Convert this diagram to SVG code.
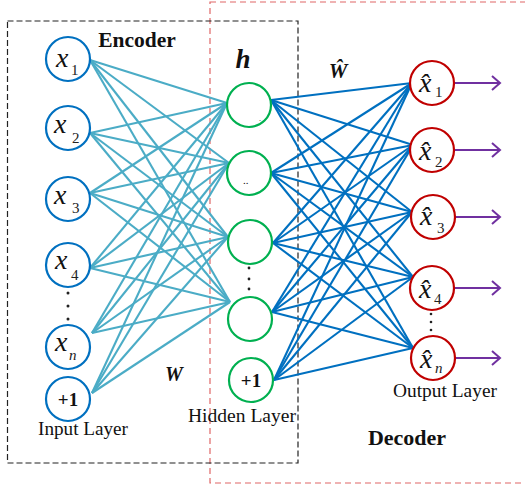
<svg xmlns="http://www.w3.org/2000/svg" width="525" height="487" viewBox="0 0 525 487">
<style>
.ser{font-family:"Liberation Serif","Times New Roman",serif;fill:#111}
.mi{font-family:"Liberation Serif","Times New Roman",serif;font-style:italic;fill:#111;font-size:28px}
.sb{font-family:"Liberation Serif","Times New Roman",serif;fill:#222;font-size:15px}
.sbi{font-family:"Liberation Serif","Times New Roman",serif;font-style:italic;fill:#222;font-size:15px}
.in{fill:#fff;stroke:#0070C0;stroke-width:2.2}
.hid{fill:#fff;stroke:#00B050;stroke-width:2.2}
.out{fill:#fff;stroke:#C00000;stroke-width:2.2}
.enc line{stroke:#4BACC6;stroke-width:2.1}
.dec line{stroke:#0070C0;stroke-width:2.1}
.arr{stroke:#7030A0;stroke-width:2;fill:none}
.dot{fill:#222}
</style>
<rect x="210" y="2" width="330" height="481" fill="none" stroke="#E06666" stroke-width="1.2" stroke-dasharray="6,4"/>
<rect x="7.5" y="21" width="290.5" height="442" fill="none" stroke="#222" stroke-width="1.2" stroke-dasharray="6,3"/>
<g id="connectors">
<g class="enc">
<line x1="90" y1="60" x2="227" y2="103"/><line x1="90" y1="60" x2="229" y2="163"/><line x1="90" y1="60" x2="228" y2="237"/><line x1="90" y1="60" x2="230" y2="302"/>
<line x1="90" y1="133" x2="227" y2="103"/><line x1="90" y1="133" x2="229" y2="163"/><line x1="90" y1="133" x2="228" y2="237"/><line x1="90" y1="133" x2="230" y2="302"/>
<line x1="90" y1="193" x2="227" y2="103"/><line x1="90" y1="193" x2="229" y2="163"/><line x1="90" y1="193" x2="228" y2="237"/><line x1="90" y1="193" x2="230" y2="302"/>
<line x1="90" y1="268" x2="227" y2="103"/><line x1="90" y1="268" x2="229" y2="163"/><line x1="90" y1="268" x2="228" y2="237"/><line x1="90" y1="268" x2="230" y2="302"/>
<line x1="92" y1="333" x2="227" y2="103"/><line x1="92" y1="333" x2="229" y2="163"/><line x1="92" y1="333" x2="228" y2="237"/><line x1="92" y1="333" x2="230" y2="302"/>
<line x1="92" y1="393" x2="227" y2="103"/><line x1="92" y1="393" x2="229" y2="163"/><line x1="92" y1="393" x2="228" y2="237"/><line x1="92" y1="393" x2="230" y2="302"/>
</g>
<g class="dec">
<line x1="271" y1="100" x2="412" y2="83"/><line x1="271" y1="100" x2="413" y2="145"/><line x1="271" y1="100" x2="412" y2="212"/><line x1="271" y1="100" x2="413" y2="277"/><line x1="271" y1="100" x2="413" y2="348"/>
<line x1="271" y1="173" x2="412" y2="83"/><line x1="271" y1="173" x2="413" y2="145"/><line x1="271" y1="173" x2="412" y2="212"/><line x1="271" y1="173" x2="413" y2="277"/><line x1="271" y1="173" x2="413" y2="348"/>
<line x1="273" y1="243" x2="412" y2="83"/><line x1="273" y1="243" x2="413" y2="145"/><line x1="273" y1="243" x2="412" y2="212"/><line x1="273" y1="243" x2="413" y2="277"/><line x1="273" y1="243" x2="413" y2="348"/>
<line x1="272" y1="312" x2="412" y2="83"/><line x1="272" y1="312" x2="413" y2="145"/><line x1="272" y1="312" x2="412" y2="212"/><line x1="272" y1="312" x2="413" y2="277"/><line x1="272" y1="312" x2="413" y2="348"/>
<line x1="274" y1="380" x2="412" y2="83"/><line x1="274" y1="380" x2="413" y2="145"/><line x1="274" y1="380" x2="412" y2="212"/><line x1="274" y1="380" x2="413" y2="277"/><line x1="274" y1="380" x2="413" y2="348"/>
</g>
<g id="outputs-arrows">
<path class="arr" d="M455 83H500M492 76L500 83L492 90"/>
<path class="arr" d="M455 150H500M492 143L500 150L492 157"/>
<path class="arr" d="M455 217H500M492 210L500 217L492 224"/>
<path class="arr" d="M455 288H500M492 281L500 288L492 295"/>
<path class="arr" d="M455 358H500M492 351L500 358L492 365"/>
</g>
</g>
<g id="input-x1"><circle class="in" cx="68" cy="59" r="22"/><text class="mi" x="56" y="67">x</text><text class="sb" x="71" y="75">1</text></g>
<g id="input-x2"><circle class="in" cx="68" cy="128" r="22"/><text class="mi" x="54" y="133">x</text><text class="sb" x="72" y="143">2</text></g>
<g id="input-x3"><circle class="in" cx="68" cy="199" r="22"/><text class="mi" x="54" y="204">x</text><text class="sb" x="72" y="213">3</text></g>
<g id="input-x4"><circle class="in" cx="68" cy="265" r="22"/><text class="mi" x="55" y="269">x</text><text class="sb" x="71" y="280">4</text></g>
<g id="input-dots"><circle class="dot" cx="68" cy="293" r="1.5"/><circle class="dot" cx="68" cy="306" r="1.5"/><circle class="dot" cx="68" cy="319" r="1.5"/></g>
<g id="input-xn"><circle class="in" cx="68" cy="347" r="22"/><text class="mi" x="55" y="351">x</text><text class="sbi" x="69" y="360">n</text></g>
<g id="input-bias"><circle class="in" cx="68" cy="399" r="22"/><text class="ser" x="68" y="406" text-anchor="middle" font-size="19" font-weight="bold">+1</text></g>
<text class="ser" x="83" y="435" text-anchor="middle" font-size="18.5" textLength="90" lengthAdjust="spacingAndGlyphs">Input Layer</text>
<text class="ser" x="137" y="47" text-anchor="middle" font-size="21.5" font-weight="bold">Encoder</text>
<text class="ser" x="174" y="381" text-anchor="middle" font-size="20" font-weight="bold" font-style="italic">W</text>
<text class="ser" x="243" y="68" text-anchor="middle" font-size="27" font-weight="bold" font-style="italic">h</text>
<text class="ser" x="338" y="78" text-anchor="middle" font-size="21" font-weight="bold" font-style="italic">Ŵ</text>
<g id="hidden-h1"><circle class="hid" cx="249" cy="105" r="22"/><text class="ser" x="259" y="121" font-size="8" fill="#555">.</text></g>
<g id="hidden-h2"><circle class="hid" cx="249" cy="173" r="22"/><text class="ser" x="243" y="184" font-size="11">..</text></g>
<g id="hidden-h3"><circle class="hid" cx="250" cy="242" r="22"/></g>
<g id="hidden-dots"><circle class="dot" cx="249" cy="268" r="1.4"/><circle class="dot" cx="249" cy="279" r="1.4"/><circle class="dot" cx="249" cy="289" r="1.4"/></g>
<g id="hidden-h4"><circle class="hid" cx="250" cy="319" r="22"/></g>
<g id="hidden-bias"><circle class="hid" cx="251" cy="380" r="22"/><text class="ser" x="251" y="387" text-anchor="middle" font-size="19" font-weight="bold">+1</text></g>
<text class="ser" x="242" y="422" text-anchor="middle" font-size="18.5" textLength="108" lengthAdjust="spacingAndGlyphs">Hidden Layer</text>
<g id="output-1"><circle class="out" cx="432" cy="83" r="22"/><text class="mi" x="419" y="92">x&#x302;</text><text class="sb" x="435" y="97">1</text></g>
<g id="output-2"><circle class="out" cx="432" cy="150" r="22"/><text class="mi" x="419" y="160">x&#x302;</text><text class="sb" x="435" y="167">2</text></g>
<g id="output-3"><circle class="out" cx="433" cy="217" r="22"/><text class="mi" x="420" y="225">x&#x302;</text><text class="sb" x="437" y="233">3</text></g>
<g id="output-4"><circle class="out" cx="432" cy="288" r="22"/><text class="mi" x="419" y="298">x&#x302;</text><text class="sb" x="434" y="304">4</text></g>
<g id="output-dots"><circle class="dot" cx="431" cy="314" r="1.3"/><circle class="dot" cx="431" cy="322" r="1.3"/><circle class="dot" cx="431" cy="330" r="1.3"/></g>
<g id="output-n"><circle class="out" cx="433" cy="358" r="22"/><text class="mi" x="420" y="368">x&#x302;</text><text class="sbi" x="435" y="373">n</text></g>
<text class="ser" x="445" y="397" text-anchor="middle" font-size="18.5" textLength="104" lengthAdjust="spacingAndGlyphs">Output Layer</text>
<text class="ser" x="407" y="445" text-anchor="middle" font-size="22" font-weight="bold">Decoder</text>
</svg>
